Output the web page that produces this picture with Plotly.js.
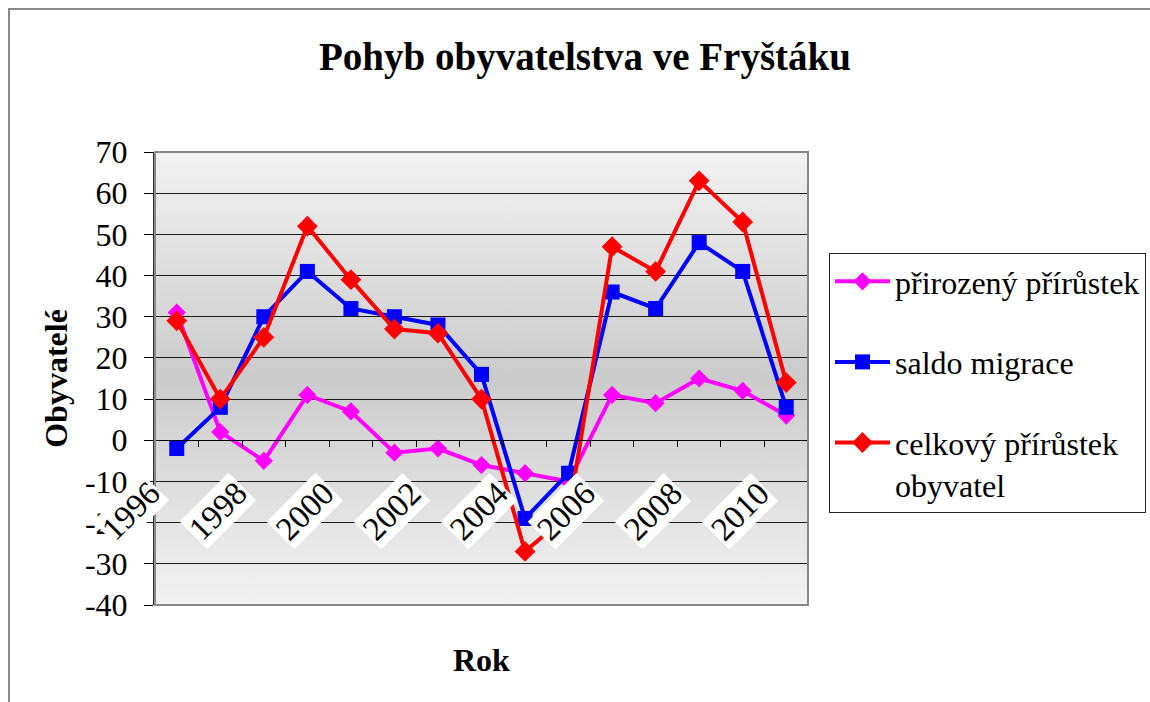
<!DOCTYPE html>
<html>
<head>
<meta charset="utf-8">
<script src="https://cdn.plot.ly/plotly-3.0.1.min.js"></script>
<style>html,body{margin:0;padding:0;background:#fff;}#chart{width:1150px;height:702px;}
#prime{position:absolute;left:0;top:0;font-family:'Liberation Serif';font-size:30px;color:#fff;z-index:-1;}
#prime b{font-weight:bold;}</style>
</head>
<body>
<div id="prime">Pohyb <b>Obyvatelé</b> přírůstek</div>
<div id="chart"></div>
<script>
// ---- data ----
const years = [1996, 1997, 1998, 1999, 2000, 2001, 2002, 2003, 2004, 2005, 2006, 2007, 2008, 2009, 2010];
const prirozenyPrirustek = [31, 2, -5, 11, 7, -3, -2, -6, -8, -10, 11, 9, 15, 12, 6];
const saldoMigrace = [-2, 8, 30, 41, 32, 30, 28, 16, -19, -8, 36, 32, 48, 41, 8];
const celkovyPrirustek = [29, 10, 25, 52, 39, 27, 26, 10, -27, -18, 47, 41, 63, 53, 14];
const tickYears = [1996, 1998, 2000, 2002, 2004, 2006, 2008, 2010];
const tickLabels = ['1996', '1998', '2000', '2002', '2004', '2006', '2008', '2010'];
const yTickValues = [-40, -30, -20, -10, 0, 10, 20, 30, 40, 50, 60, 70];
const yTickLabels = ['-40', '-30', '-20', '-10', '0', '10', '20', '30', '40', '50', '60', '70'];
const seriesNames = ['přirozený přírůstek', 'saldo migrace', 'celkový přírůstek<br>obyvatel'];
const chartTitle = 'Pohyb obyvatelstva ve Fryštáku';
const yTitle = 'Obyvatelé';
const xTitle = 'Rok';
const yRange = [-40, 70];

// ---- styling ----
const FONT = 'Liberation Serif';
const colors = ['#ff00ff', '#0000ff', '#ff0000'];
const symbols = ['diamond', 'square', 'diamond'];
const sizes = [14, 15, 16];
const values = [prirozenyPrirustek, saldoMigrace, celkovyPrirustek];

const traces = values.map((v, i) => ({
  x: years, y: v, name: seriesNames[i], type: 'scatter', mode: 'lines+markers',
  legendgroup: 'g' + i,
  line: {color: colors[i], width: 4},
  marker: {color: colors[i], symbol: symbols[i], size: sizes[i]}
}));

const gradSvg = "<svg xmlns='http://www.w3.org/2000/svg' width='100' height='100' viewBox='0 0 100 100' preserveAspectRatio='none'>" +
  "<defs><linearGradient id='g' x1='0' y1='0' x2='0' y2='1'>" +
  "<stop offset='0' stop-color='#f2f2f2'/><stop offset='0.5' stop-color='#cbcbcb'/><stop offset='1' stop-color='#f2f2f2'/>" +
  "</linearGradient></defs><rect width='100' height='100' fill='url(#g)'/></svg>";

const zeroPos = (0 - yRange[0]) / (yRange[1] - yRange[0]);

const annotations = tickYears.map((yr, i) => ({
  x: yr, y: 0, xref: 'x', yref: 'y', text: tickLabels[i], showarrow: false,
  textangle: -45, xanchor: 'right', yanchor: 'top', xshift: -7, yshift: -32,
  bgcolor: '#ffffff', borderpad: 1,
  font: {family: FONT, size: 33, color: '#000'}
}));
annotations.push({
  x: 0.5, y: -0.121, xref: 'paper', yref: 'paper', text: '<b>' + xTitle + '</b>', showarrow: false,
  xanchor: 'center', yanchor: 'middle',
  font: {family: FONT, size: 32, color: '#000'}
});

const layout = {
  width: 1150, height: 702,
  margin: {l: 155, r: 342, t: 152, b: 97, autoexpand: false},
  paper_bgcolor: '#ffffff', plot_bgcolor: 'rgba(0,0,0,0)',
  font: {family: FONT, color: '#000'},
  showlegend: true,
  title: {text: '<b>' + chartTitle + '</b>', font: {family: FONT, size: 39, color: '#000'},
          xref: 'container', yref: 'container', x: 0.5087, y: 0.92, xanchor: 'center', yanchor: 'middle'},
  xaxis: {
    type: 'linear', range: [years[0] - 0.5, years[years.length - 1] + 0.5],
    tick0: years[0] - 0.5, dtick: 1, ticks: 'outside', ticklen: 6, tickcolor: '#000', tickwidth: 1,
    showticklabels: false, showgrid: false, zeroline: false,
    showline: true, linecolor: '#000', linewidth: 1,
    anchor: 'free', position: zeroPos
  },
  yaxis: {
    range: yRange, tickmode: 'array', tickvals: yTickValues, ticktext: yTickLabels,
    ticks: 'outside', ticklen: 9, tickcolor: '#000',
    ticklabelstandoff: 10,
    showgrid: true, gridcolor: '#1a1a1a', gridwidth: 1, zeroline: false,
    showline: true, linecolor: '#333', linewidth: 2,
    tickfont: {family: FONT, size: 32, color: '#000'},
    automargin: false,
    title: {text: '<b>' + yTitle + '</b>', font: {family: FONT, size: 32, color: '#000'}, standoff: 8}
  },
  legend: {
    x: (829 - 155) / 653, y: (605 - 253) / 453, xanchor: 'left', yanchor: 'top',
    bgcolor: '#ffffff', bordercolor: '#222', borderwidth: 1,
    font: {family: FONT, size: 32, color: '#000'},
    tracegroupgap: 36, itemwidth: 55, valign: 'top',
    entrywidth: 340, entrywidthmode: 'pixels'
  },
  images: [{
    source: 'data:image/svg+xml;charset=utf-8,' + encodeURIComponent(gradSvg),
    xref: 'paper', yref: 'paper', x: 0, y: 1, sizex: 1, sizey: 1,
    sizing: 'stretch', xanchor: 'left', yanchor: 'top', layer: 'below'
  }],
  shapes: [
    {type: 'rect', xref: 'paper', yref: 'paper', x0: 0, x1: 1, y0: 0, y1: 1,
     line: {color: '#888', width: 2}, layer: 'above'},
    {type: 'rect', xref: 'paper', yref: 'paper', x0: (9 - 155) / 653, x1: 2, y0: -1, y1: (605 - 9) / 453,
     line: {color: '#888', width: 2}, fillcolor: 'rgba(0,0,0,0)', layer: 'below'}
  ],
  annotations: annotations
};

Plotly.newPlot('chart', traces, layout, {displayModeBar: false});
</script>
</body>
</html>
